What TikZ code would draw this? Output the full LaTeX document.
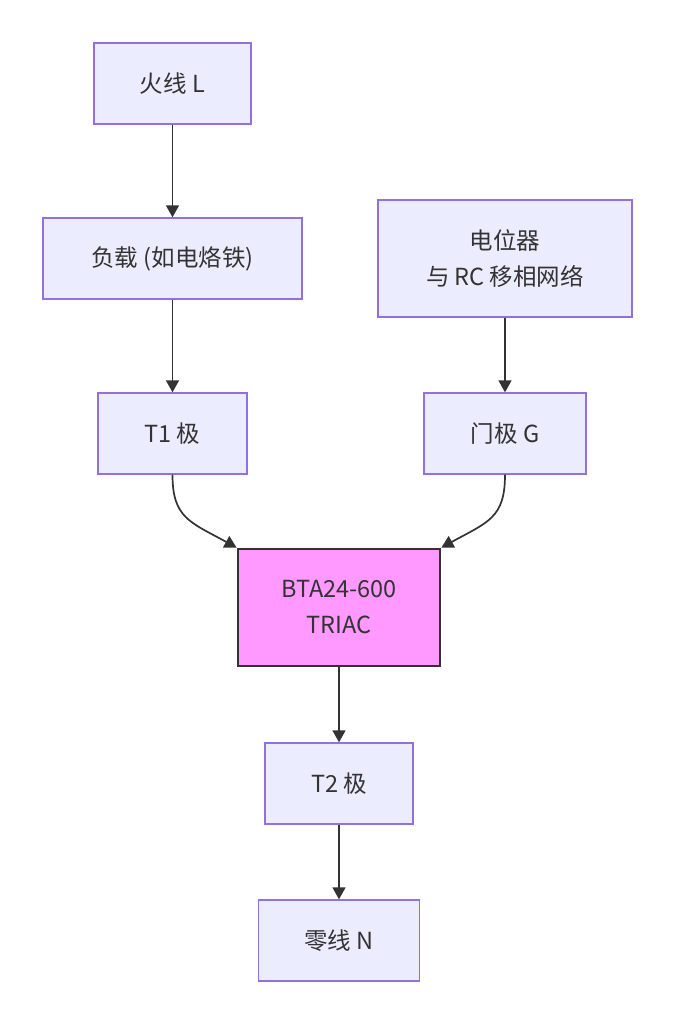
\documentclass[tikz,border=0pt]{standalone}
\usepackage{fontspec}
\setmainfont{Noto Sans CJK SC}
\usetikzlibrary{arrows.meta}
\definecolor{nodefill}{HTML}{ECECFF}
\definecolor{nodeline}{HTML}{9370DB}
\definecolor{ink}{HTML}{333333}
\definecolor{triacfill}{HTML}{FF99FF}
\begin{document}
\begin{tikzpicture}[x=1pt,y=-1pt,
  box/.style={draw=nodeline,fill=nodefill,line width=1.4pt,rectangle,inner sep=0pt,
    text=ink,align=center,font=\fontsize{23.5}{36}\selectfont},
  triac/.style={box,draw=ink,fill=triacfill,line width=2.8pt},
  conn/.style={draw=ink,line width=1.7pt,-{Triangle[length=12pt,width=13pt]}}]
\useasboundingbox (0,0) rectangle (675,1024);
\node[box,minimum width=157pt,minimum height=81pt] (L) at (172.5,83.5) {火线 L};
\node[box,minimum width=259pt,minimum height=81pt] (load) at (172.5,258.5) {负载 (如电烙铁)};
\node[box,minimum width=254pt,minimum height=117pt] (rc) at (505,258.5) {电位器\\与 RC 移相网络};
\node[box,minimum width=149pt,minimum height=81pt] (t1) at (172.5,433.5) {T1 极};
\node[box,minimum width=162pt,minimum height=81pt] (g) at (505,433.5) {门极 G};
\node[triac,minimum width=202pt,minimum height=117pt] (tr) at (339,607.5) {BTA24-600\\TRIAC};
\node[box,minimum width=148pt,minimum height=81pt] (t2) at (339,783.5) {T2 极};
\node[box,minimum width=161pt,minimum height=81pt] (n) at (339,940.5) {零线 N};
\draw[conn] (L.south) -- (load.north);
\draw[conn] (load.south) -- (t1.north);
\draw[conn] (rc.south) -- (g.north);
\draw[conn] (t1.south) .. controls (172.5,518) and (190,522) .. (tr.north west);
\draw[conn] (g.south) .. controls (505,518) and (488,522) .. (tr.north east);
\draw[conn] (tr.south) -- (t2.north);
\draw[conn] (t2.south) -- (n.north);
\end{tikzpicture}
\end{document}
